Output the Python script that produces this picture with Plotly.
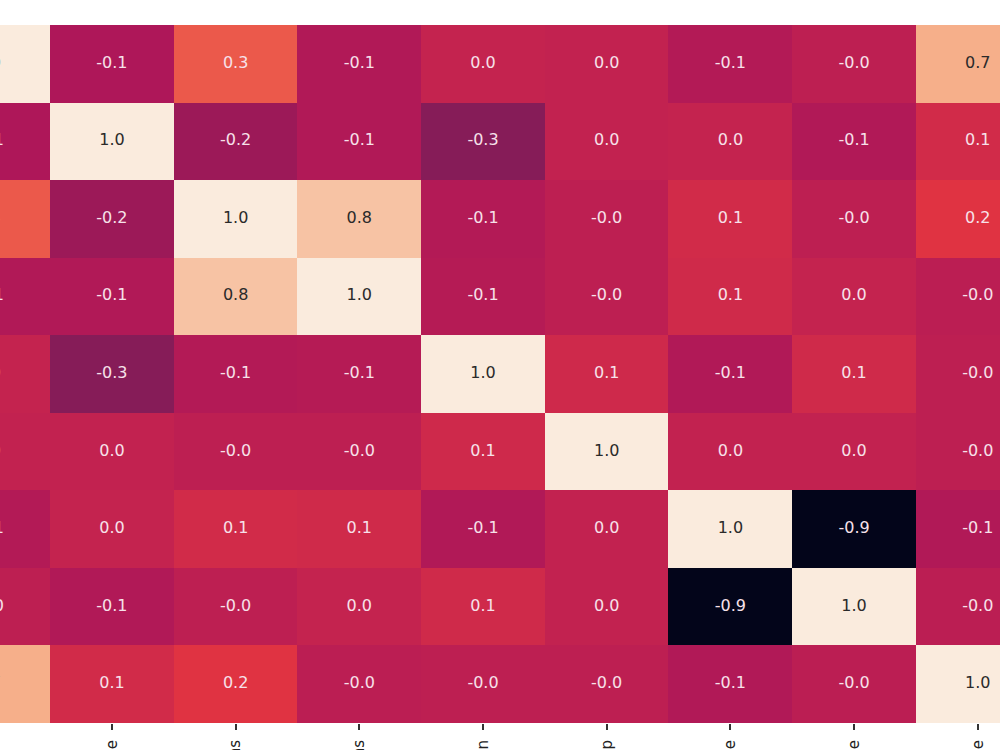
import plotly.graph_objects as go

labels = ["Age", "Income", "Transactions", "Returns", "Education",
          "Membership", "Gender_Female", "Gender_Male", "Lifetime_Value"]

corr = [
    [1.00, -0.10, 0.33, -0.08, 0.02, 0.01, -0.07, -0.02, 0.70],
    [-0.10, 1.00, -0.18, -0.08, -0.28, 0.01, 0.02, -0.08, 0.09],
    [0.33, -0.18, 1.00, 0.80, -0.07, -0.02, 0.09, -0.02, 0.17],
    [-0.08, -0.08, 0.80, 1.00, -0.06, -0.02, 0.08, 0.02, -0.03],
    [0.02, -0.28, -0.07, -0.06, 1.00, 0.07, -0.08, 0.08, -0.02],
    [0.01, 0.01, -0.02, -0.02, 0.07, 1.00, 0.01, 0.01, -0.02],
    [-0.07, 0.02, 0.09, 0.08, -0.08, 0.01, 1.00, -0.93, -0.08],
    [-0.02, -0.08, -0.02, 0.02, 0.08, 0.01, -0.93, 1.00, -0.03],
    [0.70, 0.09, 0.17, -0.03, -0.02, -0.02, -0.08, -0.03, 1.00],
]

rocket = [
    [0.0, "#03051a"],
    [1 / 7, "#35193e"],
    [2 / 7, "#701f57"],
    [3 / 7, "#ad1759"],
    [4 / 7, "#e13342"],
    [5 / 7, "#f37651"],
    [6 / 7, "#f6b48f"],
    [1.0, "#faebdd"],
]

n = len(labels)
idx = list(range(n))

fig = go.Figure()
fig.add_trace(go.Heatmap(
    z=corr, x=idx, y=idx, colorscale=rocket,
    zmin=min(min(r) for r in corr), zmax=1.0,
    showscale=False, hoverinfo="skip",
))

tx, ty, tt, tc = [], [], [], []
for i in range(n):
    for j in range(n):
        v = corr[i][j]
        tx.append(j)
        ty.append(i)
        tt.append(f"{v:.1f}")
        tc.append("#2a2a2a" if v > 0.5 else "#f7e1ea")

fig.add_trace(go.Scatter(
    x=tx, y=ty, text=tt, mode="text",
    textfont=dict(family="DejaVu Sans", size=16, color=tc),
    hoverinfo="skip", showlegend=False, cliponaxis=True,
))

fig.update_xaxes(
    range=[0.095, 8.18], tickvals=idx, ticktext=labels, tickangle=-90,
    ticks="outside", ticklen=6, tickwidth=1.5, tickcolor="#333333",
    ticklabelstandoff=4,
    tickfont=dict(family="DejaVu Sans", size=15, color="#222222"),
    showgrid=False, zeroline=False, automargin=False,
)
fig.update_yaxes(
    range=[n - 0.5, -0.5], tickvals=idx, showticklabels=False,
    showgrid=False, zeroline=False, automargin=False,
)
fig.update_layout(
    width=1000, height=750,
    margin=dict(l=0, r=0, t=25, b=27),
    paper_bgcolor="white", plot_bgcolor="white",
    showlegend=False,
)
fig.write_html("out.html")
